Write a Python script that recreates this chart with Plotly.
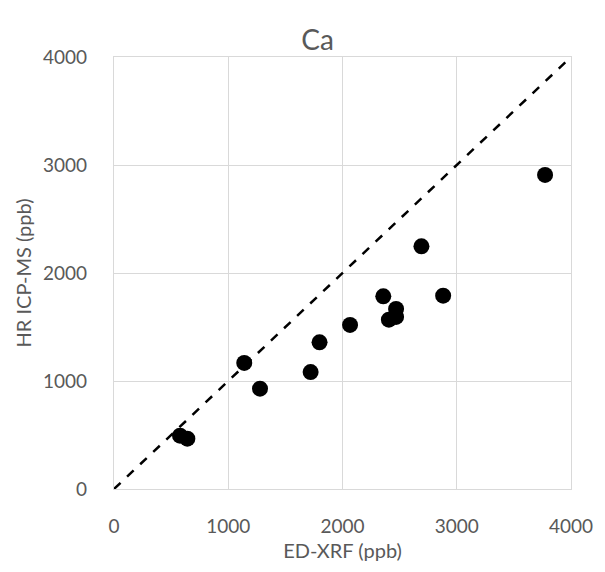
import plotly.graph_objects as go

ed_xrf = [578, 642, 1140, 1278, 1721, 1799, 2066, 2357, 2406, 2469, 2469, 2691, 2881, 3773]
hr_icpms = [494, 466, 1167, 929, 1083, 1358, 1519, 1784, 1568, 1593, 1667, 2247, 1790, 2908]
line_x = [0, 4000]
line_y = [0, 4000]
ticks = [0, 1000, 2000, 3000, 4000]

font_fam = "Lato, 'Open Sans', sans-serif"
grey = "#595959"

fig = go.Figure()
fig.add_trace(go.Scatter(x=line_x, y=line_y, mode="lines",
                         line=dict(color="black", width=2.5, dash="dash"),
                         hoverinfo="skip", showlegend=False))
fig.add_trace(go.Scatter(x=ed_xrf, y=hr_icpms, mode="markers",
                         marker=dict(color="black", size=16),
                         showlegend=False))

axis_common = dict(range=[0, 4000], tickvals=ticks, showgrid=True, gridcolor="#d9d9d9",
                   gridwidth=1.3, zeroline=False, showline=True, linecolor="#d9d9d9",
                   linewidth=1.3, mirror=True, ticks="",
                   tickfont=dict(family=font_fam, size=19, color=grey))

fig.update_layout(
    width=605, height=572,
    margin=dict(l=114, r=29, t=57, b=83),
    paper_bgcolor="white", plot_bgcolor="white",
    title=dict(text="Ca", x=0.525, xanchor="center", y=0.93, yanchor="middle",
               font=dict(family=font_fam, size=28, color=grey)),
    xaxis=dict(**axis_common, ticklabelstandoff=20,
               title=dict(text="ED-XRF (ppb)", standoff=8,
                          font=dict(family=font_fam, size=20, color=grey))),
    yaxis=dict(**axis_common, ticklabelstandoff=22,
               title=dict(text="HR ICP-MS (ppb)", standoff=5,
                          font=dict(family=font_fam, size=20, color=grey))),
)
fig.write_html("out.html")
